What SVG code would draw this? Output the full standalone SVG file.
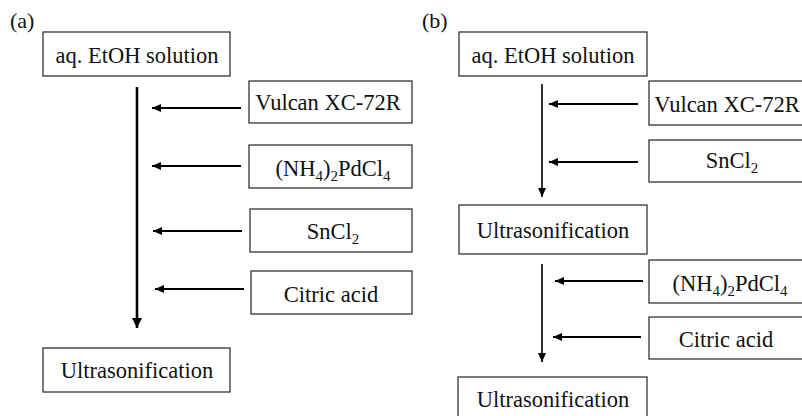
<svg xmlns="http://www.w3.org/2000/svg" width="802" height="416" viewBox="0 0 802 416">
<defs>
<style>
.box{fill:#fff;stroke:#333;stroke-width:1.3}
.t{font-family:'Liberation Serif','Times New Roman','DejaVu Serif',serif;font-size:22.5px;fill:#111;text-anchor:middle}
.lbl{font-family:'Liberation Serif','Times New Roman','DejaVu Serif',serif;font-size:22px;fill:#111}
.sub{font-size:15px}
.c{fill:none;stroke:#000}
</style>
<marker id="ah" markerUnits="userSpaceOnUse" markerWidth="10" markerHeight="10" refX="9" refY="4" orient="auto">
<path d="M0,0 L9,4 L0,8 Z" fill="#000"/>
</marker>
<marker id="av" markerUnits="userSpaceOnUse" markerWidth="12" markerHeight="12" refX="10" refY="5" orient="auto">
<path d="M0,0 L10,5 L0,10 Z" fill="#000"/>
</marker>
</defs>
<rect width="802" height="416" fill="#fff"/>
<text class="lbl" font-family="Liberation Serif, serif" x="10" y="28">(a)</text>
<text class="lbl" font-family="Liberation Serif, serif" x="422" y="28">(b)</text>

<g id="a-etoh"><rect class="box" x="43" y="32" width="187" height="44"/><text class="t" font-family="Liberation Serif, serif" x="137" y="63">aq. EtOH solution</text></g>
<g id="a-vulcan"><rect class="box" x="249" y="81" width="163" height="42"/><text class="t" font-family="Liberation Serif, serif" x="328" y="110">Vulcan XC-72R</text></g>
<g id="a-pd"><rect class="box" x="249" y="145" width="163" height="43"/><text class="t" font-family="Liberation Serif, serif" x="333" y="176">(NH<tspan class="sub" dy="5">4</tspan><tspan dy="-5">)</tspan><tspan class="sub" dy="5">2</tspan><tspan dy="-5">PdCl</tspan><tspan class="sub" dy="5">4</tspan></text></g>
<g id="a-sncl2"><rect class="box" x="250" y="209" width="162" height="43"/><text class="t" font-family="Liberation Serif, serif" x="333" y="239">SnCl<tspan class="sub" dy="5">2</tspan></text></g>
<g id="a-citric"><rect class="box" x="251" y="271" width="161" height="43"/><text class="t" font-family="Liberation Serif, serif" x="331" y="302">Citric acid</text></g>
<g id="a-ultra"><rect class="box" x="43" y="348" width="187" height="44"/><text class="t" font-family="Liberation Serif, serif" x="137" y="378">Ultrasonification</text></g>

<g id="b-etoh"><rect class="box" x="459" y="32" width="188" height="44"/><text class="t" font-family="Liberation Serif, serif" x="553" y="63">aq. EtOH solution</text></g>
<g id="b-vulcan"><rect class="box" x="649" y="81" width="170" height="44"/><text class="t" font-family="Liberation Serif, serif" x="727" y="112">Vulcan XC-72R</text></g>
<g id="b-sncl2"><rect class="box" x="649" y="140" width="170" height="42"/><text class="t" font-family="Liberation Serif, serif" x="732" y="168">SnCl<tspan class="sub" dy="5">2</tspan></text></g>
<g id="b-ultra1"><rect class="box" x="459" y="205" width="188" height="49"/><text class="t" font-family="Liberation Serif, serif" x="553" y="238">Ultrasonification</text></g>
<g id="b-pd"><rect class="box" x="649" y="260" width="170" height="43"/><text class="t" font-family="Liberation Serif, serif" x="730" y="291">(NH<tspan class="sub" dy="5">4</tspan><tspan dy="-5">)</tspan><tspan class="sub" dy="5">2</tspan><tspan dy="-5">PdCl</tspan><tspan class="sub" dy="5">4</tspan></text></g>
<g id="b-citric"><rect class="box" x="649" y="317" width="170" height="42"/><text class="t" font-family="Liberation Serif, serif" x="726" y="347">Citric acid</text></g>
<g id="b-ultra2"><rect class="box" x="458" y="377" width="189" height="50"/><text class="t" font-family="Liberation Serif, serif" x="553" y="407">Ultrasonification</text></g>

<g id="connectors">
<line class="c" x1="137" y1="87" x2="137" y2="328" stroke-width="2.6" marker-end="url(#av)"/>
<line class="c" x1="241" y1="108" x2="152" y2="108" stroke-width="1.8" marker-end="url(#ah)"/>
<line class="c" x1="241" y1="166" x2="152" y2="166" stroke-width="1.8" marker-end="url(#ah)"/>
<line class="c" x1="242" y1="231" x2="153" y2="231" stroke-width="1.8" marker-end="url(#ah)"/>
<line class="c" x1="244" y1="289" x2="155" y2="289" stroke-width="1.8" marker-end="url(#ah)"/>
<line class="c" x1="542" y1="84" x2="542" y2="197" stroke-width="1.6" marker-end="url(#ah)"/>
<line class="c" x1="638" y1="104" x2="549" y2="104" stroke-width="1.8" marker-end="url(#ah)"/>
<line class="c" x1="638" y1="162" x2="549" y2="162" stroke-width="1.8" marker-end="url(#ah)"/>
<line class="c" x1="542" y1="264" x2="542" y2="362" stroke-width="1.6" marker-end="url(#ah)"/>
<line class="c" x1="643" y1="281" x2="555" y2="281" stroke-width="1.8" marker-end="url(#ah)"/>
<line class="c" x1="641" y1="337" x2="553" y2="337" stroke-width="1.8" marker-end="url(#ah)"/>
</g>
</svg>
